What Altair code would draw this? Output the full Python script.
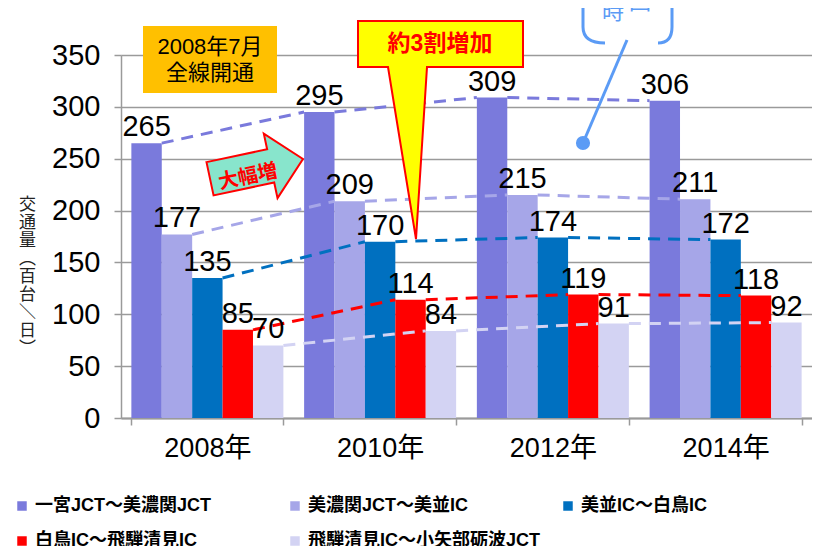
import altair as alt
import pandas as pd

years = ["2008年", "2010年", "2012年", "2014年"]
routes = [
    "一宮JCT～美濃関JCT",
    "美濃関JCT～美並IC",
    "美並IC～白鳥IC",
    "白鳥IC～飛騨清見IC",
    "飛騨清見IC～小矢部砺波JCT",
]
s1 = [265, 295, 309, 306]
s2 = [177, 209, 215, 211]
s3 = [135, 170, 174, 172]
s4 = [85, 114, 119, 118]
s5 = [70, 84, 91, 92]
series_values = [s1, s2, s3, s4, s5]
colors = ["#7A7ADC", "#A6A6E8", "#0070C0", "#FF0000", "#D3D3F3"]
y_ticks = [0, 50, 100, 150, 200, 250, 300, 350]
y_title = ["交", "通", "量", "︵", "百", "台", "＼", "日", "︶"]

NUM_FONT = "Liberation Sans, Noto Sans CJK JP, sans-serif"
JP_FONT = "Liberation Sans, Noto Sans CJK JP, sans-serif"

rows = []
for r, vals in zip(routes, series_values):
    for y, v in zip(years, vals):
        rows.append({"year": y, "route": r, "value": v})
df = pd.DataFrame(rows)

# dashed connectors: right-top of a bar to left-top of the same route's bar in the next year
PAD_IN, PAD_OUT = 0.12, 0.06
SUB = (1 - PAD_IN) / len(routes)
seg_rows = []
for si, (r, vals) in enumerate(zip(routes, series_values)):
    for gi in range(len(years) - 1):
        sid = f"{si}-{gi}"
        seg_rows.append({"route": r, "seg": sid, "xq": gi + PAD_OUT + (si + 1) * SUB, "value": vals[gi]})
        seg_rows.append({"route": r, "seg": sid, "xq": gi + 1 + PAD_OUT + si * SUB, "value": vals[gi + 1]})
seg_df = pd.DataFrame(seg_rows)

GRID = "#9A9A9A"
color_scale = alt.Scale(domain=routes, range=colors)
y_enc = alt.Y(
    "value:Q",
    scale=alt.Scale(domain=[0, 350], nice=False),
    axis=alt.Axis(
        values=y_ticks, grid=True, gridColor=GRID, gridWidth=1.5,
        domainColor=GRID, domainWidth=1.5, tickColor=GRID, tickWidth=1.5, tickSize=7,
        labelFont=NUM_FONT, labelFontSize=29, labelColor="black", labelPadding=14,
        title=y_title, titleAngle=0, titleFont="Noto Sans CJK JP", titleFontSize=17,
        titleFontWeight="normal", titleColor="#222222", titleLineHeight=18,
        titleAlign="center", titleBaseline="middle", titleX=-94, titleY=149,
    ),
)
x_scale = alt.Scale(paddingInner=PAD_IN, paddingOuter=PAD_OUT)
x_enc = alt.X(
    "year:N", sort=years, scale=x_scale,
    axis=alt.Axis(
        title=None, labelAngle=0, labelFont=NUM_FONT, labelFontSize=27,
        labelColor="black", labelPadding=10, tickBand="extent", tickSize=7,
        tickColor=GRID, tickWidth=1.5, domainColor=GRID, domainWidth=2, grid=False,
    ),
)
x_enc_noaxis = alt.X("year:N", sort=years, scale=x_scale, axis=None)
xo_enc = alt.XOffset("route:N", sort=routes)

bars = alt.Chart(df).mark_bar().encode(
    x=x_enc, xOffset=xo_enc, y=y_enc,
    color=alt.Color(
        "route:N", scale=color_scale,
        legend=alt.Legend(
            orient="none", legendX=-108, legendY=442, direction="horizontal",
            columns=3, gridAlign="all", symbolType="square", symbolSize=90,
            symbolStrokeWidth=0, labelFont=JP_FONT, labelFontSize=18,
            labelFontWeight="bold", labelColor="black", columnPadding=18,
            rowPadding=17, labelOffset=4, labelLimit=400, title=None,
        ),
    ),
)

labels = alt.Chart(df).mark_text(
    baseline="bottom", dy=-1, font=NUM_FONT, fontSize=29, color="black"
).encode(x=x_enc_noaxis, xOffset=xo_enc, y=y_enc, text="value:Q")

lines = alt.Chart(seg_df).mark_line(strokeDash=[12, 8], strokeWidth=3).encode(
    x=alt.X("xq:Q", scale=alt.Scale(domain=[0, len(years)], nice=False, zero=False), axis=None),
    y=alt.Y("value:Q", scale=alt.Scale(domain=[0, 350], nice=False)),
    color=alt.Color("route:N", scale=color_scale, legend=None),
    detail="seg:N",
)

one = pd.DataFrame({"k": [0]})

open_box = alt.Chart(one).mark_rect(color="#FFC000").encode(
    x=alt.value(22), x2=alt.value(156), y=alt.value(-29), y2=alt.value(38)
)
open_text = alt.Chart(pd.DataFrame({"t": [["2008年7月", "全線開通"]]})).mark_text(
    font=JP_FONT, fontSize=22, color="black", lineHeight=26, baseline="middle"
).encode(x=alt.value(89), y=alt.value(-8), text="t")

callout_path = "M0,0 L-28,-172 L-58,-172 L-58,-218 L107,-218 L107,-172 L11,-172 Z"
callout = alt.Chart(one).mark_point(
    shape=callout_path, size=4, filled=True, fill="#FFFF00", stroke="#FF0000",
    strokeWidth=2, opacity=1,
).encode(x=alt.value(295), y=alt.value(184))
callout_text = alt.Chart(pd.DataFrame({"t": ["約3割増加"]})).mark_text(
    font=JP_FONT, fontSize=23, fontWeight="bold", color="#FF0000", baseline="middle"
).encode(x=alt.value(319), y=alt.value(-11), text="t")

arrow_path = "M-47,-17 L15,-17 L15,-33 L48,0 L15,33 L15,17 L-47,17 Z"
arrow = alt.Chart(one).mark_point(
    shape=arrow_path, size=4, filled=True, fill="#88E5CC", stroke="#FF0000",
    strokeWidth=2, opacity=1, angle=348,
).encode(x=alt.value(135), y=alt.value(114))
arrow_text = alt.Chart(pd.DataFrame({"t": ["大幅増"]})).mark_text(
    font="Noto Sans CJK JP", fontSize=20, fontWeight="bold", color="#FF0000",
    baseline="middle", angle=348,
).encode(x=alt.value(127), y=alt.value(122), text="t")

BLUE = "#5B9BF5"
bracket_path = "M-48,-90 L-48,-16 Q-48,0 -26,0 M27,0 Q41,0 41,-16 L41,-90"
bracket = alt.Chart(one).mark_point(
    shape=bracket_path, size=4, filled=False, stroke=BLUE, strokeWidth=3, opacity=1,
).encode(x=alt.value(510), y=alt.value(-12))
pointer = alt.Chart(one).mark_rule(color=BLUE, strokeWidth=3).encode(
    x=alt.value(506), y=alt.value(-15), x2=alt.value(462), y2=alt.value(88)
)
dot = alt.Chart(one).mark_point(
    shape="circle", size=200, filled=True, color=BLUE, opacity=1
).encode(x=alt.value(462), y=alt.value(88))
note_a = alt.Chart(pd.DataFrame({"t": ["時"]})).mark_text(
    font="Noto Sans CJK JP", fontSize=22, color=BLUE, baseline="middle"
).encode(x=alt.value(492), y=alt.value(-43), text="t")
note_b = alt.Chart(pd.DataFrame({"t": ["回"]})).mark_text(
    font="Noto Sans CJK JP", fontSize=22, color=BLUE, baseline="middle"
).encode(x=alt.value(519), y=alt.value(-53), text="t")

chart = alt.layer(
    bars, lines, labels, open_box, open_text, callout, callout_text,
    arrow, arrow_text, pointer, dot, bracket, note_a, note_b,
).resolve_scale(x="independent").properties(
    width=691, height=363,
    padding={"left": 113, "top": 47, "right": 0, "bottom": 128},
    autosize=alt.AutoSizeParams(type="none"),
).configure_view(stroke=None).configure(background="white")

chart.save("out.html", embed_options={"renderer": "svg", "actions": False})
